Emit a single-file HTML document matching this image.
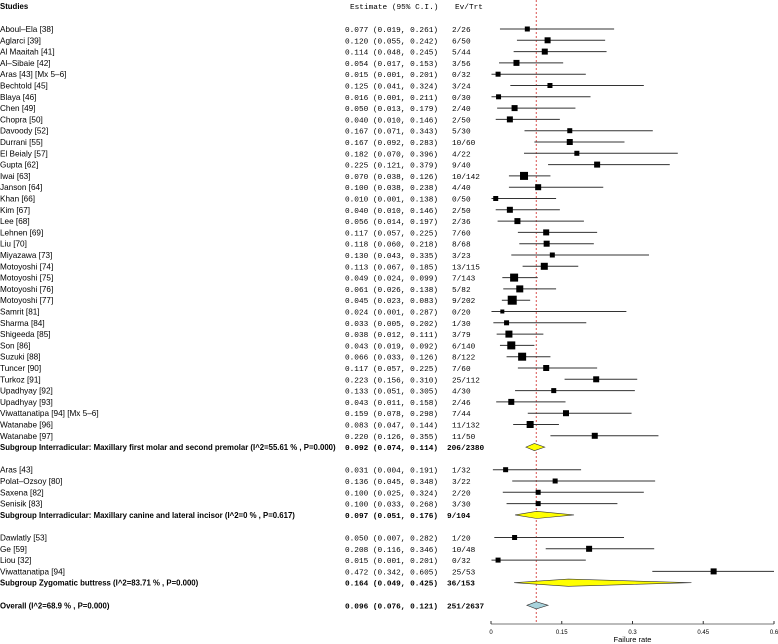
<!DOCTYPE html>
<html><head><meta charset="utf-8">
<style>
html,body{margin:0;padding:0;background:#fff;}
svg{display:block;}
.nm{font-family:"Liberation Sans",sans-serif;font-size:8.2px;fill:#000;}
.nm.b{font-size:7.8px;}
.mono{font-family:"Liberation Mono",monospace;font-size:7.75px;fill:#000;}
.b{font-weight:bold;}
</style></head>
<body>
<svg id="plot" width="778" height="644" viewBox="0 0 778 644" xmlns="http://www.w3.org/2000/svg">
<text class="nm b" x="0" y="9">Studies</text>
<text class="mono" x="350" y="9">Estimate (95% C.I.)</text>
<text class="mono" x="455" y="9">Ev/Trt</text>
</svg>
<script>
const labels=["Aboul–Ela [38]","Aglarci [39]","Al Maaitah [41]","Al–Sibaie [42]","Aras [43] [Mx 5–6]","Bechtold [45]","Blaya [46]","Chen [49]","Chopra [50]","Davoody [52]","Durrani [55]","El Beialy [57]","Gupta [62]","Iwai [63]","Janson [64]","Khan [66]","Kim [67]","Lee [68]","Lehnen [69]","Liu [70]","Miyazawa [73]","Motoyoshi [74]","Motoyoshi [75]","Motoyoshi [76]","Motoyoshi [77]","Samrit [81]","Sharma [84]","Shigeeda [85]","Son [86]","Suzuki [88]","Tuncer [90]","Turkoz [91]","Upadhyay [92]","Upadhyay [93]","Viwattanatipa [94] [Mx 5–6]","Watanabe [96]","Watanabe [97]",
"Subgroup Interradicular: Maxillary first molar and second premolar (I^2=55.61 % , P=0.000)","",
"Aras [43]","Polat–Ozsoy [80]","Saxena [82]","Senisik [83]",
"Subgroup Interradicular: Maxillary canine and lateral incisor (I^2=0 % , P=0.617)","",
"Dawlatly [53]","Ge [59]","Liou [32]","Viwattanatipa [94]",
"Subgroup Zygomatic buttress (I^2=83.71 % , P=0.000)","",
"Overall (I^2=68.9 % , P=0.000)"];
const types="sssssssssssssssssssssssssssssssssssssgbssssgbssssgbo";
const est=[0.077,0.120,0.114,0.054,0.015,0.125,0.016,0.050,0.040,0.167,0.167,0.182,0.225,0.070,0.100,0.010,0.040,0.056,0.117,0.118,0.130,0.113,0.049,0.061,0.045,0.024,0.033,0.038,0.043,0.066,0.117,0.223,0.133,0.043,0.159,0.083,0.220,0.092,null,0.031,0.136,0.100,0.100,0.097,null,0.050,0.208,0.015,0.472,0.164,null,0.096];
const lo=[0.019,0.055,0.048,0.017,0.001,0.041,0.001,0.013,0.010,0.071,0.092,0.070,0.121,0.038,0.038,0.001,0.010,0.014,0.057,0.060,0.043,0.067,0.024,0.026,0.023,0.001,0.005,0.012,0.019,0.033,0.057,0.156,0.051,0.011,0.078,0.047,0.126,0.074,null,0.004,0.045,0.025,0.033,0.051,null,0.007,0.116,0.001,0.342,0.049,null,0.076];
const hi=[0.261,0.242,0.245,0.153,0.201,0.324,0.211,0.179,0.146,0.343,0.283,0.396,0.379,0.126,0.238,0.138,0.146,0.197,0.225,0.218,0.335,0.185,0.099,0.138,0.083,0.287,0.202,0.111,0.092,0.126,0.225,0.310,0.305,0.158,0.298,0.144,0.355,0.114,null,0.191,0.348,0.324,0.268,0.176,null,0.282,0.346,0.201,0.605,0.425,null,0.121];
const evtrt=["2/26","6/50","5/44","3/56","0/32","3/24","0/30","2/40","2/50","5/30","10/60","4/22","9/40","10/142","4/40","0/50","2/50","2/36","7/60","8/68","3/23","13/115","7/143","5/82","9/202","0/20","1/30","3/79","6/140","8/122","7/60","25/112","4/30","2/46","7/44","11/132","11/50","206/2380","","1/32","3/22","2/20","3/30","9/104","","1/20","10/48","0/32","25/53","36/153","","251/2637"];
const weight=[5,6,6,6,5,5,5,6,6,5,6,5,6,8,6,5,6,6,6,6,5,7,8,7,9,4,5,7,8,8,6,6,5,6,6,7,6,0,0,5,5,5,5,0,0,5,6,5,6,0,0,0];
const xTicks=[0,0.15,0.3,0.45,0.6];
const xTickLabels=["0","0.15","0.3","0.45","0.6"];
const overallRef=0.096;

const svg=document.getElementById('plot');
const NS="http://www.w3.org/2000/svg";
const X=v=>491+v*(283/0.6);
const Y=i=>29+i*11.3;
function mk(tag,attrs){const e=document.createElementNS(NS,tag);for(const k in attrs)e.setAttribute(k,attrs[k]);svg.appendChild(e);return e;}

let ref=mk('line',{x1:X(overallRef),x2:X(overallRef),y1:0,y2:624,stroke:'#d9534f','stroke-width':1,'stroke-dasharray':'2,2'});



for(let i=0;i<labels.length;i++){
  const t=types[i];
  if(t==='b')continue;
  const y=Y(i);
  const bold=(t!=='s');
  let tx=mk('text',{x:0,y:y+3,class:'nm'+(bold?' b':'')});tx.textContent=labels[i];
  
  
  let es=mk('text',{x:345,y:y+3,class:'mono'+(bold?' b':'')});
  es.textContent=est[i].toFixed(3)+" ("+lo[i].toFixed(3)+", "+hi[i].toFixed(3)+")";
  
  
  let ev=mk('text',{x:bold?447:452,y:y+3,class:'mono'+(bold?' b':'')});ev.textContent=evtrt[i];
  
  
  if(t==='s'){
    let ln=mk('line',{x1:X(lo[i]),x2:Math.min(X(hi[i]),774),y1:y,y2:y,stroke:'#333','stroke-width':1});
    
    
    const s=weight[i];
    let sq=mk('rect',{x:X(est[i])-s/2,y:y-s/2,width:s,height:s,fill:'#000'});
    
    
  } else {
    const h=3.6;
    const p=`${X(lo[i])},${y} ${X(est[i])},${y-h} ${X(hi[i])},${y} ${X(est[i])},${y+h}`;
    let d=mk('polygon',{points:p,fill:t==='o'?'#a9d3dc':'#ffff00',stroke:'#333','stroke-width':0.6});
    
    
  }
}
let ax=mk('line',{x1:X(0),x2:X(0.6),y1:624,y2:624,stroke:'#777','stroke-width':1});


xTicks.forEach((v,k)=>{
  let tk=mk('line',{x1:X(v),x2:X(v),y1:621,y2:624,stroke:'#333','stroke-width':1});
  
  
  let tl=mk('text',{x:X(v),y:634,'text-anchor':'middle','font-family':'Liberation Sans, sans-serif','font-size':'6px'});
  tl.textContent=xTickLabels[k];
  
  
});
let xt=mk('text',{x:X(0.3),y:642,'text-anchor':'middle','font-family':'Liberation Sans, sans-serif','font-size':'7.5px'});
xt.textContent="Failure rate";


</script>
</body></html>
